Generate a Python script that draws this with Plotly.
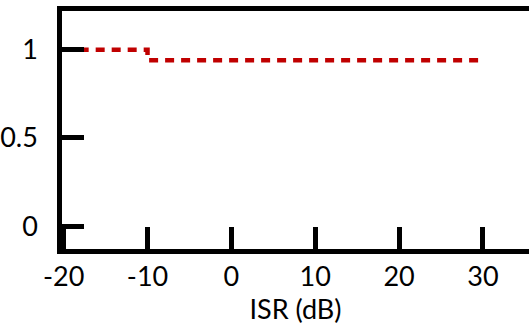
import plotly.graph_objects as go

# ISR sweep (dB) and the normalised metric at each breakpoint
isr_db = [-20, -10, 30]
metric = [1.0, 0.94, 0.94]

x_ticks = [-20, -10, 0, 10, 20, 30]
x_tick_text = ["-20", "-10", "0", "10", "20", "30"]
y_ticks = [0, 0.5, 1]
y_tick_text = ["0", "0.5", "1"]

FONT = "Lato"

fig = go.Figure()
fig.add_trace(go.Scatter(
    x=isr_db, y=metric,
    mode="lines",
    line=dict(color="#C00000", width=4.5, dash="9px,7px", shape="hv"),
    showlegend=False,
))

fig.update_layout(
    width=529, height=325,
    margin=dict(l=60, r=0, t=11, b=76),
    paper_bgcolor="white",
    plot_bgcolor="white",
    font=dict(family=FONT, size=27, color="black"),
    xaxis=dict(
        range=[-20.2, 35.5],
        tickvals=x_ticks, ticktext=x_tick_text,
        ticks="inside", ticklen=22, tickwidth=4.5, tickcolor="black",
        showline=True, linewidth=4.5, linecolor="black", mirror=True,
        showgrid=False, zeroline=False,
        ticklabelstandoff=0,
        title=dict(text="ISR (dB)", standoff=0, font=dict(size=27)),
    ),
    yaxis=dict(
        range=[-0.13, 1.22],
        tickvals=y_ticks, ticktext=y_tick_text,
        ticks="inside", ticklen=22, tickwidth=4.5, tickcolor="black",
        showline=True, linewidth=4.5, linecolor="black",
        showgrid=False, zeroline=False,
        ticklabelstandoff=14,
    ),
)

fig.write_html("out.html")
